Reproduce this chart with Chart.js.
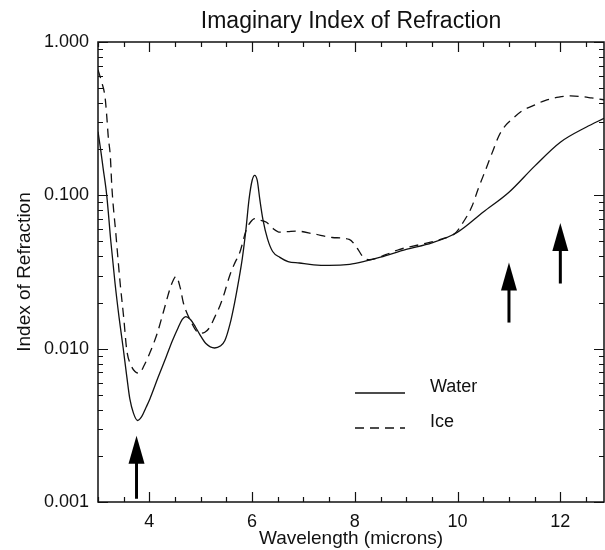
<!DOCTYPE html>
<html>
<head>
<meta charset="utf-8">
<script src="https://cdn.jsdelivr.net/npm/chart.js@4.4.0/dist/chart.umd.min.js"></script>
<style>
  html, body { margin: 0; padding: 0; background: #fff; }
</style>
</head>
<body>
<canvas id="chart" width="605" height="550"></canvas>
<script>
// values (wavelength in microns, imaginary index)
const waterX = [3.0, 3.05, 3.1, 3.17, 3.25, 3.33, 3.41, 3.49, 3.56, 3.62, 3.69, 3.77, 3.85, 3.93, 4.01, 4.17, 4.33, 4.45, 4.56, 4.64, 4.71, 4.8, 4.9, 4.98, 5.1, 5.27, 5.38, 5.47, 5.57, 5.66, 5.74, 5.81, 5.88, 5.94, 6.0, 6.05, 6.1, 6.15, 6.21, 6.3, 6.4, 6.54, 6.7, 6.92, 7.2, 7.5, 7.9, 8.2, 8.5, 9.0, 9.5, 10.0, 10.5, 11.0, 11.5, 12.0, 12.5, 12.85];
const waterY = [0.26, 0.2, 0.15, 0.1, 0.05, 0.027, 0.016, 0.0101, 0.0066, 0.0047, 0.0038, 0.0034, 0.0036, 0.0041, 0.0047, 0.0065, 0.0089, 0.0113, 0.0137, 0.0155, 0.0162, 0.0155, 0.0138, 0.0124, 0.0108, 0.0101, 0.0104, 0.0113, 0.0145, 0.02, 0.028, 0.039, 0.06, 0.094, 0.125, 0.135, 0.125, 0.094, 0.0697, 0.052, 0.043, 0.0394, 0.037, 0.0362, 0.0352, 0.0349, 0.0355, 0.0372, 0.0395, 0.0444, 0.049, 0.0575, 0.0778, 0.1047, 0.155, 0.222, 0.278, 0.318];

const iceX = [3.0, 3.07, 3.136, 3.17, 3.2, 3.24, 3.27, 3.35, 3.43, 3.5, 3.56, 3.65, 3.72, 3.8, 3.9, 4.01, 4.15, 4.27, 4.43, 4.52, 4.6, 4.66, 4.79, 4.98, 5.08, 5.17, 5.27, 5.37, 5.46, 5.56, 5.66, 5.76, 5.89, 5.97, 6.05, 6.15, 6.28, 6.4, 6.54, 6.7, 6.86, 7.2, 7.56, 7.89, 8.05, 8.15, 8.28, 8.6, 8.86, 9.3, 9.7, 9.97, 10.1, 10.28, 10.4, 10.55, 10.7, 10.8, 10.93, 11.06, 11.25, 11.45, 11.7, 11.97, 12.2, 12.42, 12.6, 12.85];
const iceY = [0.66, 0.55, 0.44, 0.33, 0.24, 0.18, 0.113, 0.055, 0.027, 0.016, 0.0098, 0.0077, 0.0071, 0.0069, 0.0078, 0.0094, 0.0125, 0.0172, 0.0262, 0.0296, 0.025, 0.02, 0.0155, 0.0126, 0.0128, 0.0137, 0.016, 0.0189, 0.023, 0.0297, 0.036, 0.0424, 0.06, 0.067, 0.0705, 0.069, 0.0667, 0.061, 0.0575, 0.058, 0.0585, 0.056, 0.0531, 0.0516, 0.045, 0.04, 0.038, 0.041, 0.0443, 0.048, 0.052, 0.0573, 0.066, 0.0848, 0.11, 0.148, 0.2, 0.243, 0.285, 0.314, 0.355, 0.382, 0.415, 0.437, 0.445, 0.44, 0.432, 0.42];

const xTicks = [4, 6, 8, 10, 12];
const yTicks = [0.001, 0.01, 0.1, 1];
const yTickLabels = ['0.001', '0.010', '0.100', '1.000'];

// arrows: wavelength, tip value, tail value
const arrowX = [3.75, 11, 12];
const arrowTip = [0.0027, 0.0365, 0.066];
const arrowTail = [0.00105, 0.0148, 0.0266];

const FONT = "'Liberation Sans', Arial, Helvetica, sans-serif";
const INK = '#111';

function toPoints(xs, ys) {
  return xs.map((x, i) => ({ x, y: ys[i] }));
}

// box with inward ticks on all four sides
const framePlugin = {
  id: 'frame',
  afterDatasetsDraw(chart) {
    const { ctx, chartArea: a, scales: { x, y } } = chart;
    ctx.save();
    ctx.strokeStyle = INK;
    ctx.lineWidth = 1.5;
    ctx.strokeRect(a.left, a.top, a.right - a.left, a.bottom - a.top);
    ctx.lineWidth = 1.2;
    ctx.beginPath();
    for (let v = Math.ceil(x.min * 2) / 2; v <= x.max; v += 0.5) {
      const px = Math.round(x.getPixelForValue(v)) + 0.5;
      const len = xTicks.includes(v) ? 10 : 5;
      ctx.moveTo(px, a.bottom); ctx.lineTo(px, a.bottom - len);
      ctx.moveTo(px, a.top); ctx.lineTo(px, a.top + len);
    }
    yTicks.forEach((d, i) => {
      const mult = i < yTicks.length - 1 ? [1, 2, 3, 4, 5, 6, 7, 8, 9] : [1];
      mult.forEach(m => {
        const py = Math.round(y.getPixelForValue(d * m)) + 0.5;
        const len = m === 1 ? 10 : 5;
        ctx.moveTo(a.left, py); ctx.lineTo(a.left + len, py);
        ctx.moveTo(a.right, py); ctx.lineTo(a.right - len, py);
      });
    });
    ctx.stroke();
    ctx.restore();
  }
};

const arrowPlugin = {
  id: 'arrows',
  afterDatasetsDraw(chart) {
    const { ctx, scales: { x, y } } = chart;
    ctx.save();
    ctx.fillStyle = '#000';
    ctx.strokeStyle = '#000';
    arrowX.forEach((v, i) => {
      const px = x.getPixelForValue(v);
      const tip = y.getPixelForValue(arrowTip[i]);
      const tail = y.getPixelForValue(arrowTail[i]);
      ctx.lineWidth = 3;
      ctx.beginPath();
      ctx.moveTo(px, tail); ctx.lineTo(px, tip + 20);
      ctx.stroke();
      ctx.beginPath();
      ctx.moveTo(px, tip);
      ctx.lineTo(px - 8, tip + 28);
      ctx.lineTo(px + 8, tip + 28);
      ctx.closePath();
      ctx.fill();
    });
    ctx.restore();
  }
};

const legendPlugin = {
  id: 'inlegend',
  afterDatasetsDraw(chart) {
    const { ctx } = chart;
    ctx.save();
    ctx.strokeStyle = INK;
    ctx.fillStyle = INK;
    ctx.font = '18px ' + FONT;
    ctx.textBaseline = 'middle';
    chart.data.datasets.forEach((ds, i) => {
      const yy = 393 + i * 35;
      ctx.lineWidth = ds.borderWidth;
      ctx.setLineDash(ds.borderDash || []);
      ctx.beginPath();
      ctx.moveTo(355, yy); ctx.lineTo(405, yy);
      ctx.stroke();
      ctx.setLineDash([]);
      ctx.fillText(ds.label, 430, yy - 6);
    });
    ctx.restore();
  }
};

new Chart(document.getElementById('chart'), {
  type: 'line',
  data: {
    datasets: [
      { label: 'Water', data: toPoints(waterX, waterY), borderColor: INK, borderWidth: 1.3, pointRadius: 0, cubicInterpolationMode: 'monotone' },
      { label: 'Ice', data: toPoints(iceX, iceY), borderColor: INK, borderWidth: 1.3, borderDash: [9, 6], pointRadius: 0, cubicInterpolationMode: 'monotone' }
    ]
  },
  options: {
    responsive: false,
    animation: false,
    layout: { padding: { left: 0, right: 1, top: 0, bottom: 0 } },
    plugins: {
      legend: { display: false },
      tooltip: { enabled: false },
      title: {
        display: true,
        text: 'Imaginary Index of Refraction',
        fullSize: false,
        color: INK,
        font: { family: FONT, size: 23, weight: 'normal' },
        padding: { top: 8, bottom: 6.4 }
      }
    },
    scales: {
      x: {
        type: 'linear',
        min: 3,
        max: 12.85,
        afterBuildTicks: s => { s.ticks = xTicks.map(v => ({ value: v })); },
        afterFit: s => { s.height = 48; },
        grid: { display: false, drawTicks: false, tickLength: 0 },
        border: { display: false },
        ticks: { color: INK, padding: 9, maxRotation: 0, font: { family: FONT, size: 18 } },
        title: { display: true, text: 'Wavelength (microns)', color: INK, padding: 0, font: { family: FONT, size: 19 } }
      },
      y: {
        type: 'logarithmic',
        min: 0.001,
        max: 1,
        afterBuildTicks: s => { s.ticks = yTicks.map(v => ({ value: v })); },
        afterFit: s => { s.width = 98; },
        grid: { display: false, drawTicks: false, tickLength: 0 },
        border: { display: false },
        ticks: { color: INK, padding: 9, font: { family: FONT, size: 18 }, callback: (v, i) => yTickLabels[i] },
        title: { display: true, text: 'Index of Refraction', color: INK, padding: { top: 13, bottom: 0 }, font: { family: FONT, size: 19 } }
      }
    }
  },
  plugins: [framePlugin, arrowPlugin, legendPlugin]
});
</script>
</body>
</html>
